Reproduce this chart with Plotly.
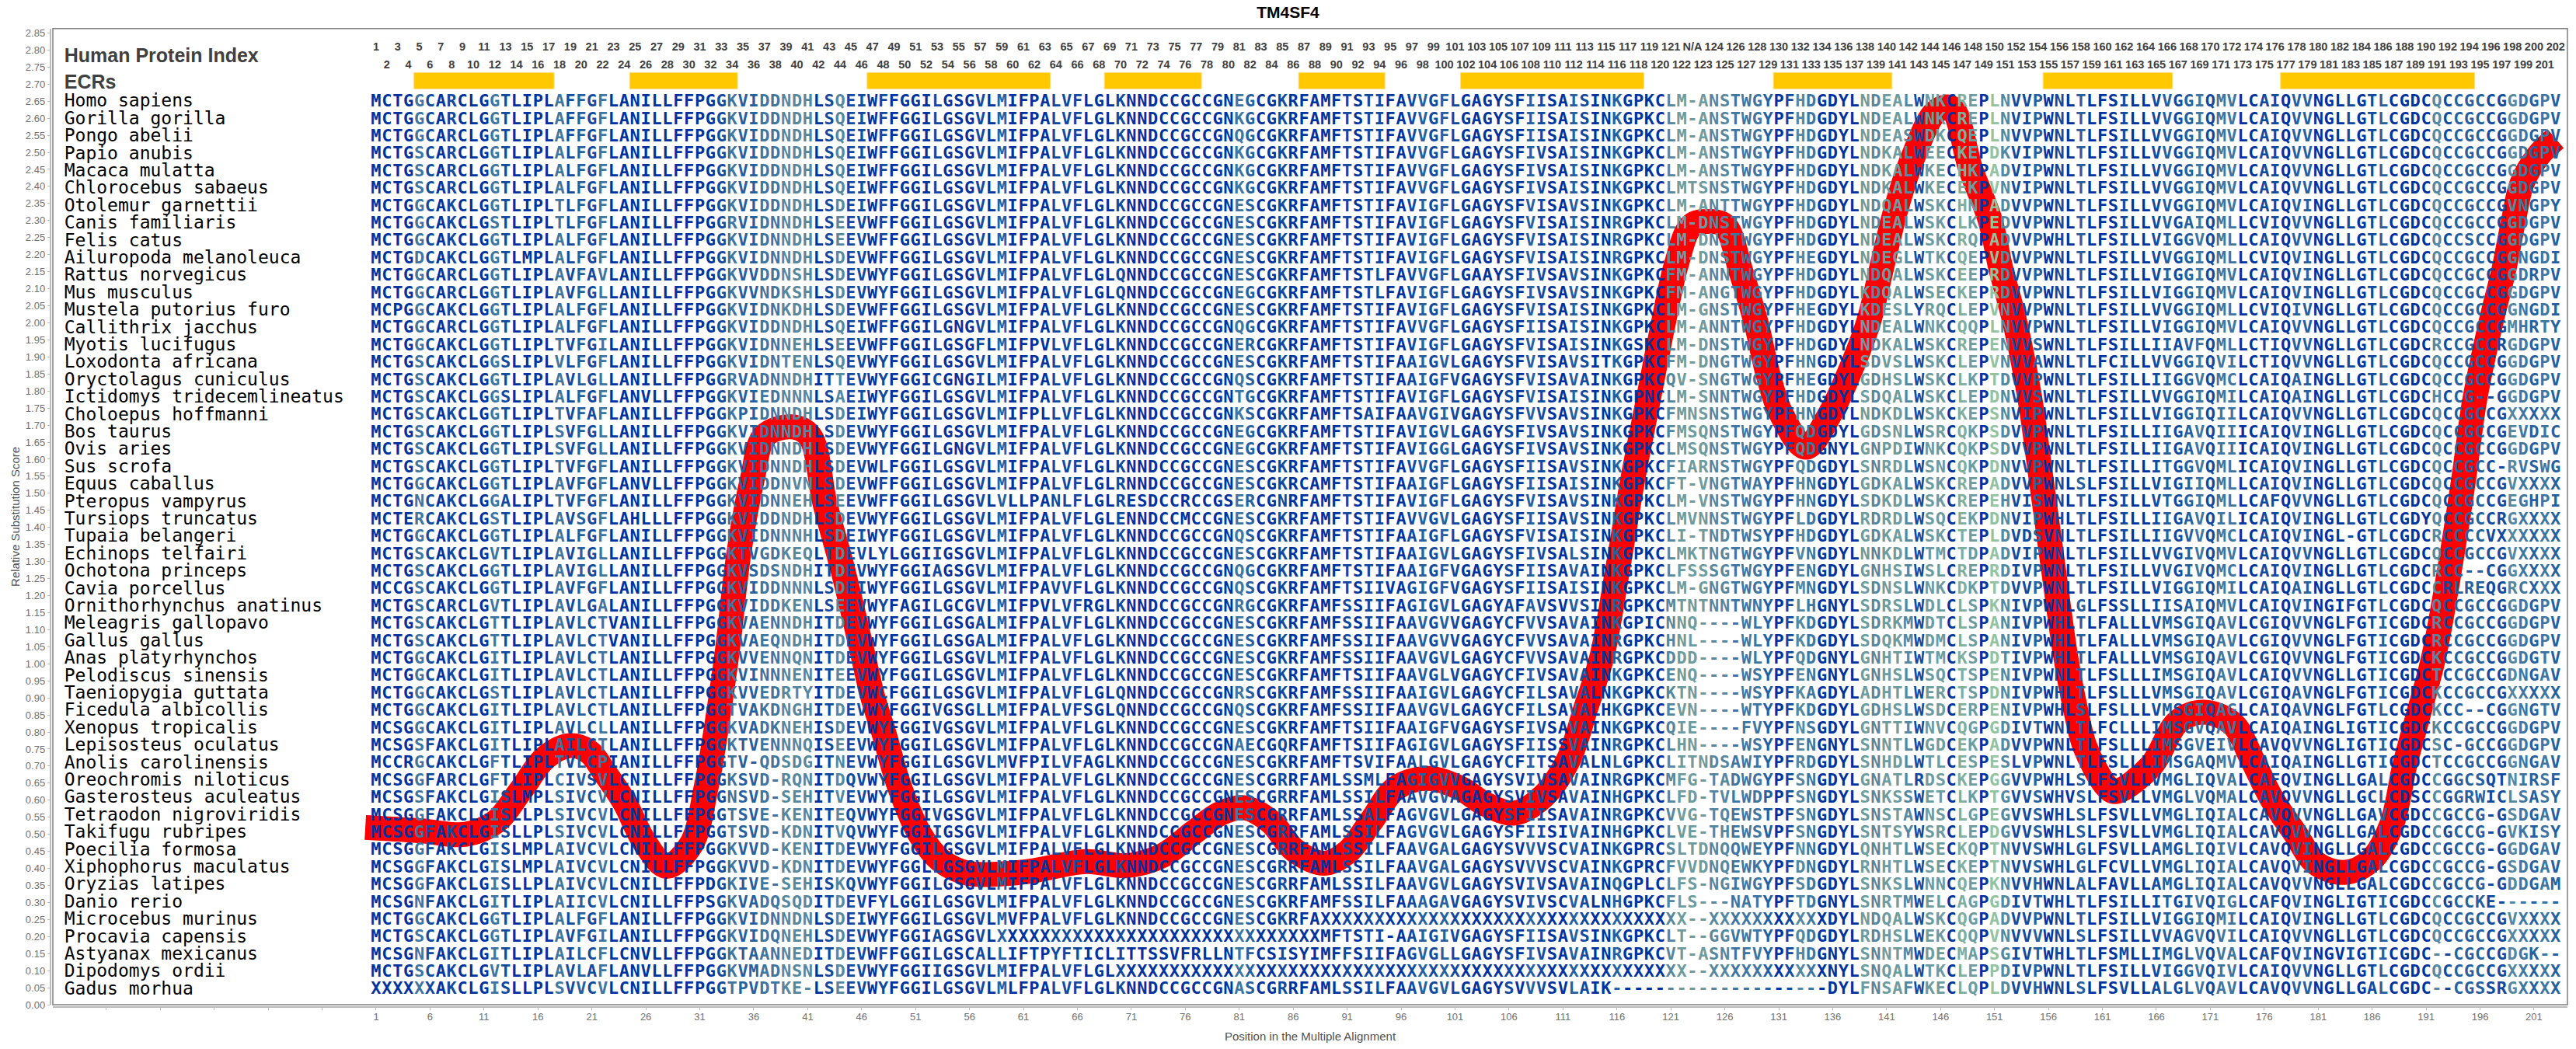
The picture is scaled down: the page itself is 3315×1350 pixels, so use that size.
import plotly.graph_objects as go

species = ["Homo sapiens","Gorilla gorilla","Pongo abelii","Papio anubis","Macaca mulatta","Chlorocebus sabaeus","Otolemur garnettii","Canis familiaris","Felis catus","Ailuropoda melanoleuca","Rattus norvegicus","Mus musculus","Mustela putorius furo","Callithrix jacchus","Myotis lucifugus","Loxodonta africana","Oryctolagus cuniculus","Ictidomys tridecemlineatus","Choloepus hoffmanni","Bos taurus","Ovis aries","Sus scrofa","Equus caballus","Pteropus vampyrus","Tursiops truncatus","Tupaia belangeri","Echinops telfairi","Ochotona princeps","Cavia porcellus","Ornithorhynchus anatinus","Meleagris gallopavo","Gallus gallus","Anas platyrhynchos","Pelodiscus sinensis","Taeniopygia guttata","Ficedula albicollis","Xenopus tropicalis","Lepisosteus oculatus","Anolis carolinensis","Oreochromis niloticus","Gasterosteus aculeatus","Tetraodon nigroviridis","Takifugu rubripes","Poecilia formosa","Xiphophorus maculatus","Oryzias latipes","Danio rerio","Microcebus murinus","Procavia capensis","Astyanax mexicanus","Dipodomys ordii","Gadus morhua"]

alignment = [
"MCTGGCARCLGGTLIPLAFFGFLANILLFFPGGKVIDDNDH LSQEIWFFGGILGSGVLMIFPALVFLGLKNNDCCGCCGNEGCGKRFAMFTSTIFAVVGFLGAGYSFIISAISINKGPKC LM-A NSTWGYPFHDGDYLNDEALWNKCREPLNVVPWNLTLFSILLVVGGIQMVLCAIQVVNGLLGTLCGDCQCCGCCGGDGPV",
"MCTGGCARCLGGTLIPLAFFGFLANILLFFPGGKVIDDNDH LSQEIWFFGGILGSGVLMIFPALVFLGLKNNDCCGCCGNKGCGKRFAMFTSTIFAVVGFLGAGYSFIISAISINKGPKC LM-A NSTWGYPFHDGDYLNDEALWNKCREPLNVIPWNLTLFSILLVVGGIQMVLCAIQVVNGLLGTLCGDCQCCGCCGGDGPV",
"MCTGGCARCLGGTLIPLAFFGFLANILLFFPGGKVIDDNDH LSQEIWFFGGILGSGVLMIFPALVFLGLKNNDCCGCCGNQGCGKRFAMFTSTIFAVVGFLGAGYSFIISAISINKGPKC LM-A NSTWGYPFHDGDYLNDEASWDKCQEPLNVVPWNLTLFSILLVVGGIQMVLCAIQVVNGLLGTLCGDCQCCGCCGGDGPV",
"MCTGSCARCLGGTLIPLALFGFLANILLFFPGGKVIDDNDH LSQEIWFFGGILGSGVLMIFPALVFLGLKNNDCCGCCGNKGCGKRFAMFTSTIFAVVGFLGAGYSFIVSAISINKGPKC LM-A NSTWGYPFHDGDYLNDKALWEECKEPDKVIPWNLTLFSILLVVGGIQMVLCAIQVVNGLLGTLCGDCQCCGCCGGDGPV",
"MCTGSCARCLGGTLIPLALFGFLANILLFFPGGKVIDDNDH LSQEIWFFGGILGSGVLMIFPALVFLGLKNNDCCGCCGNKGCGKRFAMFTSTIFAVVGFLGAGYSFIVSAISINKGPKC LM-A NSTWGYPFHDGDYLNDKALWKECHKPADVIPWNLTLFSILLVVGGIQMVLCAIQVVNGLLGTLCGDCQCCGCCGGDGPV",
"MCTGSCARCLGGTLIPLALFGFLANILLFFPGGKVIDDNDH LSQEIWFFGGILGSGVLMIFPALVFLGLKNNDCCGCCGNKGCGKRFAMFTSTIFAVVGFLGAGYSFIVSAISINKGPKC LMTS NSTWGYPFHDGDYLNDKALWKECEKPVNVIPWNLTLFSILLVVGGIQMVLCAIQVVNGLLGTLCGDCQCCGCCGGDGPV",
"MCTGGCAKCLGGTLIPLTLFGFLANILLFFPGGKVIDDNDH LSDEIWFFGGILGSGVLMIFPALVFLGLKNNDCCGCCGNESCGKRFAMFTSTIFAVIGFLGAGYSFVISAVSINKGPKC LM-A NTTWGYPFHDGDYLNDQALWSKCHNPADVVPWNLTLFSILLVVGGIQMVLCAIQVINGLLGTLCGDCQCCGCCGVNGPY",
"MCTGGCAKCLGSTLIPLTLFGFLANILLFFPGGRVIDNNDH LSEEVWFFGGILGSGVLMIFPALVFLGLKNNDCCGCCGNESCGKRFAMFTSTIFAVIGFLGAGYSFVISAISINRGPKC LM-D NSTWGYPFHDGDYLNDEALWSKCLKPEDVVPWNLTLFSILLVVGAIQMLLCVIQVVNGLLGTLCGDCQCCGCCGGDGPV",
"MCTGGCAKCLGGTLIPLALFGFLANILLFFPGGKVIDNNDH LSEEVWFFGGILGSGVLMIFPALVFLGLKNNDCCGCCGNESCGKRFAMFTSTIFAVIGFLGAGYSFVISAISINRGPKC LM-D NSTWGYPFHDGDYLNDEALWSKCRQPADVVPWHLTLFSILLVIGGVQMLLCAIQVVNGLLGTLCGDCQCCSCCGGDGPV",
"MCTGDCAKCLGGTLMPLALFGFLANILLFFPGGKVIDNNDH LSDEVWFFGGILGSGVLMIFPALVFLGLKNNDCCGCCGNESCGKRFAMFTSTIFAVIGFLGAGYSFVISAISINRGPKC LM-D NSTWGYPFHEGDYLNDEGLWTKCQEPVDVVPWNLTLFSILLVVGGIQMLLCVIQVINGLLGTLCGDCQCCGCCGGNGDI",
"MCTGGCARCLGGTLIPLAVFAVLANILLFFPGGKVVDDNSH LSDEVWYFGGILGSGVLMIFPALVFLGLQNNDCCGCCGNESCGKRFAMFTSTLFAVVGFLGAAYSFIVSAVSINKGPKC FM-A NNTWGYPFHDGDYLNDQALWSKCEEPRDVVPWNLTLFSILLVIGGIQMVLCAIQVINGLLGTLCGDCQCCGCCGGDRPV",
"MCTGGCARCLGGTLIPLAVFGLLANILLFFPGGKVVNDKSH LSDEVWYFGGILGSGVLMIFPALVFLGLQNNDCCGCCGNEGCGKRFAMFTSTLFAVIGFLGAGYSFIVSAVSINKGPKC FM-A NGTWGYPFHDGDYLKDQALWSECKEPRDVVPWNLTLFSILLVIGGIQMVLCAIQVINGLLGTLCGDCQCCGCCGGDGPV",
"MCPGGCAKCLGGTLIPLALFGFLANILLFFPGGKVIDNKDH LSDEVWFFGGILGSGVLMIFPALVFLGLKNNDCCGCCGNESCGKRFAMFTSTIFAVIGFLGAGYSFVISAISINKGPKC LM-G NSTWGYPFHEGDYLKDESLYRQCLEPVNVVPWNLTLFSILLVVGGIQMLLCVIQIVNGLLGTLCGDCQCCGCCGGNGDI",
"MCTGGCARCLGGTLIPLALFGFLANILLFFPGGKVIDDNDH LSQEIWFFGGILGNGVLMIFPALVFLGLKNNDCCGCCGNQGCGKRFAMFTSTIFAVVGFLGAGYSFIISAISINKGPKC LM-A NNTWGYPFHDGDYLNDEALWNKCQQPLNVVPWNLTLFSILLVIGGIQMVLCAIQVVNGLLGTLCGDCQCCGCCGMHRTY",
"MCTGGCAKCLGGTLIPLTVFGILANILLFFPGGKVIDNNEH LSEEVWFFGGILGSGFLMIFPVLVFLGLKNNDCCGCCGNERCGKRFAMFTSTIFAVIGFLGAGYSFVISAISINKGSKC LM-D NSTWGYPFHDGDYLNDKALWSKCREPENVVSWNLTLFSILLIIAVFQMLLCTIQVVNGLLGTLCGDCRCCGCCRGDGPV",
"MCTGSCAKCLGGSLIPLVLFGFLANILLFFPGGKVIDNTEN LSQEVWYFGGILGSGVLMIFPALVFLGLKNNDCCGCCGNESCGKRFAMFTSTIFAAIGVLGAGYSFVISAVSITKGPKC FM-D NGTWGYPFHNGDYLSDVSLWSKCLEPVNVVAWNLTLFCILLVVGGIQVILCTIQVVNGLLGTLCGDCQCCGCCGGDGPV",
"MCTGSCAKCLGGTLIPLAVLGLLANILLFFPGGRVADNNDH ITTEVWYFGGICGNGILMIFPALVFLGLKNNDCCGCCGNQSCGKRFAMFTSTIFAAIGFVGAGYSFVISAVAINKGPKC QV-S NGTWGYPFHEGDYLGDHSLWSKCLKPTDVVPWNLTLFSILLIIGGVQMCLCAIQAINGLLGTLCGDCQCCGCCGGDGPV",
"MCTGSCAKCLGGSLIPLALFGFLANVLLFFPGGKVIEDNNN LSAEIWYFGGILGSGVLMIFPALVFLGLKNNDCCGCCGNTGCGKRFAMFTSTIFAVIGFLGAGYSFVISAISINKGPNC LM-S NNTWGYPFHDGDYLSDQALWSKCLEPDNVVSWNLTLFSILLVVGGIQMILCAIQAINGLLGTLCGDCHCCG--GGDGPV",
"MCTGSCAKCLGGTLIPLTVFAFLANILLFFPGGKPIDNNDH LSDEIWYFGGILGSGVLMIFPLLVFLGLKNNDCCGCCGNKSCGKRFAMFTSAIFAAVGIVGAGYSFVVSAVSINKGPKC FMNS NSTWGYPFHNGDYLNDKDLWSKCKEPSNVIPWNLTLFSILLVIGGIQIILCAIQVVNGLLGTLCGDCQCCGCCGXXXXX",
"MCTGSCAKCLGGTLIPLSVFGLLANILLFFPGGKVIDNNDH LSDEVWYFGGILGSGVLMIFPALVFLGLKNNDCCGCCGNEGCGKRFAMFTSTIFAVIGVLGAGYSFIVSAVSINKGPKC FMSQ NSTWGYPFQDGDYLGDSNLWSRCQKPSDVVPWNLTLFSILLIIGAVQIIICAIQVINGLLGTLCGDCQCCGCCGEVDIC",
"MCTGSCAKCLGGTLIPLSVFGLLANILLFFPGGKVIDNNDH LSDEVWYFGGILGNGVLMIFPALVFLGLKNNDCCGCCGNEGCGKRFAMFTSTIFAVIGGLGAGYSFIVSAVSINKGPKC LMSQ NSTWGYPFQDGNYLGNPDIWNKCQKPSDVVPWNLTLFSILLIIGAVQIIICAIQVINGLLGTLCGDCQCCGCCGGDGPV",
"MCTGSCAKCLGGTLIPLTVFGFLANILLFFPGGKVIDNNDH LSDEVWLFGGILGSGVLMIFPALVFLGLKNNDCCGCCGNESCGKRFAMFTSTIFAVVGFLGAGYSFIISAVSINKGPKC FIAR NSTWGYPFQDGDYLSNRDLWSNCQKPDNVVPWNLTLFSILLITGGVQMLICAIQVINGLLGTLCGDCQCCGCC-RVSWG",
"MCTGGCAKCLGGTLIPLAVFGFLANVLLFFPGGKVIDDNVN LSDEVWFFGGILGSGVLMIFPALVFLGLRNNDCCGCCGNESCGKRCAMFTSTIFAAIGFLGAGYSFIISAISINKGPKC FT-V NGTWAYPFHNGDYLGDKALWSKCREPADVVPWNLSLFSILLVIGIIQMLLCAIQVINGLLGTLCGDCQCCGCCGVXXXX",
"MCTGNCAKCLGGALIPLTVFGFLANILLFFPGGKVIDNNEH LSEEVWFFGGILGSGVLVLLPANLFLGLRESDCCRCCGSERCGNRFAMFTSTIFAVIGFLGAGYSFVISAVSINKGPKC LM-V NSTWGYPFHNGDYLSDKDLWSKCREPEHVISWNLTLFSILLVTGGIQMLLCAFQVVNGLLGTLCGDCQCCGCCGEGHPI",
"MCTERCAKCLGSTLIPLAVSGFLAHLLLFFPGGKVIDDNDH LSDEVWYFGGILGSGVLMIFPALVFLGLENNDCCMCCGNESCGKRFAMFTSTIFAVVGVLGAGYSFIISAVSINKGPKC LMVN NSTWGYPFLDGDYLRDRDLWSQCEKPDNVIPWHLTLFSILLIIGAVQILICAIQVINGLLGTLCGDYQCCGCCRGXXXX",
"MCTGGCAKCLGGTLIPLALFGFLANILLFFPGGKVIDNNNH LSDEIWYFGGILGSGVLMIFPALVFLGLKNNDCCGCCGNQSCGKRFAMFTSTIFAAIGFLGAGYSFVISAISINKGPKC LI-T NDTWSYPFHDGDYLGDKALWSKCTEPLDVDSVNLTLFSILLIIGVVQMCLCAIQVINGL-GTLCGDCRCCCCVXXXXXX",
"MCTGSCAKCLGVTLIPLAVIGLLANILLFFPGGKTVGDKEQ LTDEVLYLGGIIGSGVLMIFPALVFLGLKNNDCCGCCGNESCGKRFAMFTSTIFAAIGVLGAGYSFIVSALSINKGPKC LMKT NGTWGYPFVNGDYLNNKDLWTMCTDPADVIPWNLTLFSILLVVGIVQMVLCAIQVVNGLLGTLCGDCQCCGCCGVXXXX",
"MCTGSCAKCLGGTLIPLAVIGLLANILLFFPGGKVSDSNDH ITDEVWYFGGIAGSGVLMIFPALVFLGLKNNDCCGCCGNQGCGKRFAMFTSTIFAAIGFVGAGYSFIISAVAINKGPKC LFSS SGTWGYPFENGDYLGNHSIWSLCREPRDIVPWNLTLFSILLVVGIVQMCLCAIQVINGLLGTLCGDCRCC--CGGXXXX",
"MCCGSCAKCLGGTLIPLAVFGFLANILLFFPGGKVIDDNNN LSDEIWYFGGILGSGVLMIFPAVVFLGLKNNDCCGCCGNQSCGKRFAMFTSIIVAGIGFVGAGYSFIISAISINKGPKC LM-G NGTWGYPFMNGDYLSDNSLWNKCDKPTDVVPWNLTLFSILLVIGGIQMILCAIQAINGLLGTLCGDCCRLREQGRCXXX",
"MCTGSCARCLGVTLIPLAVLGALANILLFFPGGKVIDDKEN LSEEVWYFAGILGCGVLMIFPVLVFRGLKNNDCCGCCGNRGCGKRFAMFSSIIFAGIGVLGAGYAFAVSVVSINRGPKC MTNT NNTWNYPFLHGNYLSDRSLWDLCLSPKNIVPWNLGLFSSLLIISAIQMVLCAIQVINGIFGTLCGDCQCCGCCGGDGPV",
"MCTGSCAKCLGTTLIPLAVLCTVANILLFFPGGKVAENNDH ITDEVWYFGGILGSGALMIFPALVFLGLKNNDCCGCCGNESCGKRFAMFSSIIFAAVGVVGAGYCFVVSAVAINKGPIC NNQ- ---WLYPFKDGDYLSDRKMWDTCLSPANIVPWHLTLFALLLVMSGIQAVLCGIQVVNGLFGTICGDCRCCGCCGGDGPV",
"MCTGSCAKCLGTTLIPLAVLCTVANILLFFPGGKVAEQNDH ITDEVWYFGGILGSGALMIFPALVFLGLKNNDCCGCCGNESCGKRFAMFSSIIFAAVGVVGAGYCFVVSAVAINRGPKC HNL- ---WLYPFKDGDYLSDQKMWDMCLSPANIVPWHLTLFALLLVMSGIQAVLCGIQVVNGLFGTICGDCRCCGCCGGDGPV",
"MCTGGCAKCLGITLIPLAVLCTLANILLFFPGGKVVENNQN ITDEVWYFGGILGSGVLMIFPALVFLGLKNNDCCGCCGNESCGKRFAMFSSIIFAAVGVLGAGYCFVVSAVAINRGPKC DDD- ---WLYPFQDGNYLGNHTIWTMCKSPDTIVPWHLTLFALLLVMSGIQAVLCGIQVVNGLFGTICGDCKCCGCCGGDGTV",
"MCTGGCAKCLGITLIPLAVLCTLANILLFFPGGKVINNNEN ITEEVWYFGGILGSGVLMIFPALVFLGLKNNDCCGCCGNESCGKRFAMFTSIIFAAVGLVGAGYCFIVSAVAINKGPKC ENQ- ---WSYPFENGNYLGNHSLWSQCTSPENIVPWNLTLFSLLLIMSGIQAVLCAIQVVNGLLGTICGDCTCCGCCGDNGAV",
"MCTGGCAKCLGSTLIPLAVLCTLANILLFFPGGKVVEDRTY ITDEVWCFGGILGSGVLMIFPALVFLGLQNNDCCGCCGNRSCGKRFAMFSSIIFAAIGVLGAGYCFILSAVALNKGPKC KTN- ---WSYPFKAGDYLADHTLWERCTSPDNIVPWHLTLFSLLLVMSGIQAVLCGIQAVNGLFGTICGDCKCCGCCGXXXXX",
"MCTGGCAKCLGITLIPLAVLCTLANILLFFPGGTVAKDNGH ITDEVWYFGGIVGSGLLMIFPALVFSGLQNNDCCGCCGNQSCGKRFAMFSSIIFAAVGVLGAGYCFILSAVALHKGPKC EVN- ---WTYPFKDGDYLGDHSLWSDCERPENIVPWHLSLFSLLLVMSGIQAGLCAIQAVNGLFGTLCGDCKCC--CGGNGTV",
"MCSGGCAKCLGITLIPLAVLCLLANILLFFPGGKVADKNEH ISDEVWYFGGIVGSGVLMIFPALVFLGLKNNDCCGCCGNESCGKRFAMFTSIIFAAIGFVGAGYSFIVSAVAINKGPKC QIE- ---FVYPFNSGDYLGNTTIWNVCQGPGDIVTWNLTLFCLLLIMSGVQAVLCAIQAINGLIGTICGDCKCCGCCGGDGPV",
"MCSGSFAKCLGITLIPLAILCTLANILLFFPGGKTVENNNQ ISEEVWYFGGILGSGVLMIFPALVFLGLKNNDCCGCCGNAECGQRFAMFTSIIFAGIGVLGAGYSFIISSVAINRGPKC LHN- ---WSYPFENGNYLSNNTLWGDCEKPADVVPWNLTLFSLLLIMSGVEIVLCAVQVVNGLIGTICGDCSC-GCCGGDGPV",
"MCCRGCAKCLGFTLIPLTVLCPIANILLFFPGGTV-QDSDG ITNEVWYFGGILGSGVLMVFPILVFAGLKNNDCCGCCGNESCGKRFAMFTSVIFAALGVLGAGYCFITSAVALNLGPKC LITN DSAWIYPFRDGDYLSNHDLWTLCESPESLVPWNLTLFSLLLIMSGAQMVLCAIQAINGLLGTICGDCTCCGCCGGNGAV",
"MCSGGFARCLGFTLIPLCIVSVLCNILLFFPGGKSVD-RQN ITDQVWYFGGILGSGVLMIFPALVFLGLKNNDCCGCCGNESCGRRFAMLSSMLFAGIGVVGAGYSVIVSAVAINRGPKC MFG- TADWGYPFSNGDYLGNATLRDSCKEPGGVVPWHLSLFSVLLVMGLIQVALCAFQVINGLLGALCGDCCGGCSQTNIRSF",
"MCSGSFAKCLGISLMPLSIVCVLCNILLFFPGGNSVD-SEH ITVEVWYFGGILGSGVLMIFPALVFLGLKNNDCCGCCGNESCGRRFAMLSSILFAAVGVAGAGYSVIVSAVAINHGPKC LFD- TVLWDPPFSNGDYLSNKSSWETCLKPTGVVSWHVSLFSVLLVMGLVQMALCAVQVVNGLLGCLCDSCCGGRWICLSASY",
"MCSGGFAKCLGISLLPLSIVCVLCNILLFFPGGTSVE-KEN ITEQVWYFGGIVGSGVLMIFPALVFLGLKNNDCCGCCGNESCGRRFAMLSSALFAGVGVLGAGYSFIISAVAINRGPKC VVG- TQEWSTPFSNGDYLSNSTAWNSCLGPEGVVSWHLSLFSVLLVMGLIQIALCAVQVVNGLLGAVCGDCCGCCG-GSDGAV",
"MCSGGFAKCLGISLLPLSIVCVLCNILLFFPGGTSVD-KDN ITVQVWYFGGIIGSGVLMIFPALVFLGLKNNDCCGCCGNESCGRRFAMLSSILFAGVGVLGAGYSFIISIVAINHGPKC LVE- THEWSVPFSNGDYLSNTSYWSRCLEPDGVVSWHLSLFSVLLVMGLIQIALCAVQVVNGLLGALCGDCCGCCG-GVKISY",
"MCSGGFAKCLGISLMPLAIVCVLCNILLFFPGGKVVD-KEN ITDEVWYFGGILGSGVLMIFPALVFLGLKNNDCCGCCGNESCGRRFAMLSSILFAAVGALGAGYSVVVSCVAINKGPRC SLTD NQQWEYPFNNGDYLQNHTLWSECKQPTNVVSWHLGLFSVLLAMGLIQIVLCAVQVINGLLGALCGDCCGCCG-GGDGAV",
"MCSGGFAKCLGISLMPLAIVCVLCNILLFFPGGKVVD-KDN ITDEVWYFGGLLGSGVLMIFPALVFLGLKNNDCCGCCGNESCGRRFAMLSSILFAAVGALGAGYSVVVSCVAINKGPRC FVVD NQEWKYPFDNGDYLRNHTLWSECKEPTNVVSWHLGLFCVLLVMGLIQIALCAVQVINGLLGALCGDCCGCCG-GSDGAV",
"MCSGGFAKCLGISLLPLAIVCVLCNILLFFPDGKIVE-SEH ISKQVWYFGGILGSGVLMIFPALVFLGLKNNDCCGCCGNESCGRRFAMLSSILFAAVGVLGAGYSVIVSAVAINQGPLC LFS- NGIWGYPFSDGDYLSNKSLWNNCQEPKNVVHWNLALFAVLLAMGLIQIALCAVQVVNGLLGALCGDCCGCCG-GDDGAM",
"MCSGNFAKCLGITLIPLAIICVLCNILLFFPSGKVADQSQD ITDEVFYLGGILGSGVLMIFPALVFLGLKNNDCCGCCGNESCGKRFAMFSSILFAAAGAVGAGYSVIVSCVALNHGPKC FLS- --NATYPFTDGNYLSNRTMWELCAGPGDIVTWHLTLFSILLITGIVQIGLCAFQVINGLIGTICGDCCGCCKE------",
"MCTGGCAKCLGGTLIPLALFGFLANILLFFPGGKVIDNNDN LSDEIWYFGGILGSGVLMVFPALVFLGLKNNDCCGCCGNESCGKRFAXXXXXXXXXXXXXXXXXXXXXXXXXXXXXXXX XX-- XXXXXXXXXXXDYLNDQALWSKCQGPADVVPWNLTLFSILLVIGGIQMILCAIQVINGLLGTLCGDCQCCGCCGVXXXX",
"MCTGSCAKCLGGTLIPLAVFGILANILLFFPGGKVIDQNEH LSDEVWYFGGIAGSGVLXXXXXXXXXXXXXXXXXXXXXXXXXXXXXXMFTSTI-AAIGIVGAGYSFIISAVSINKGPKC LT-- GGVWTYPFQDGDYLRDHSLWEKCQQPVNVVVWNLSLFSILLVVAGVQVILCAIQVVNGLLGTLCGDCQCCGCCGXXXXX",
"MCSGNFAKCLGITLIPLAILCFLCNVLLFFPGGKTAANNED ITDEVWFFGGILGSCALLIFTPYFTICLITTSSVFRLLNTFCSISYIMFFSIIFAGVGLLGAGYSFIVSAVAINRGPKC VT-A SNTFVYPFHDGNYLSNNTMWDECMAPSGIVTWHLTLFSMLLIMGLVQVALCAFQVINGVIGTICGDC--CGCCGDGK--",
"MCTGSCAKCLGVTLIPLAVLAFLANVLLFFPGGKVMADNSN LSDEVWYFGGIIGSGVLMIFPALVFLGLXXXXXXXXXXXXXXXXXXXXXXXXXXXXXXXXXXXXXXXXXXXXXXXXXXX XX-- XXXXXXXXXXXNYLSNQALWTKCLEPPDIVPWNLTLFSILLVIGGVQIVLCAIQVVNGLLGTLCGDCQCCGCCGXXXXX",
"XXXXXXAKCLGISLLPLSVVCVLCNILLFFPGGTPVDTKE- LSEEVWYFGGILGSGVLMLFPALVFLGLKNNDCCGCCGNASCGRRFAMLSSILFAAVGVLGAGYSVVVSVLAIK----- ---- -----------DYLFNSAFWKECLQPLDVVHWNLSLFSVLLALGLVQAVLCAVQVVNGLLGALCGDC--CGSSRGXXXX",
]

conservation = [0,0,0,0,3,1,0,1,0,0,0,3,1,0,0,0,0,3,1,2,1,3,0,0,0,0,0,0,0,0,0,0,1,3,2,2,3,3,4,4,4,0,1,4,1,1,0,1,0,0,0,0,1,0,0,0,1,0,2,0,0,0,0,1,1,1,0,0,0,1,0,0,0,0,0,0,0,0,0,0,3,2,0,0,1,0,0,0,0,0,1,0,1,1,0,0,1,2,1,2,1,0,0,0,0,1,0,2,1,0,0,2,1,0,0,2,0,0,0,0,4,5,5,5,4,4,3,3,3,2,0,1,4,3,0,0,0,0,5,4,5,5,4,1,5,5,0,6,5,0,7,4,1,1,2,0,1,0,2,0,0,0,1,0,0,1,2,1,2,3,1,3,3,0,0,1,1,0,2,2,0,0,0,1,0,1,2,0,0,0,0,4,1,2,2,2,1,1,4,3,2,3,2]

index_labels = [str(i) for i in range(1, 123)] + ["N/A"] + [str(i) for i in range(123, 203)]

ecr_start = [4.5, 24.5, 46.5, 68.5, 86.5, 101.5, 130.5, 155.5, 177.5]
ecr_end = [17.5, 34.5, 63.5, 77.5, 94.5, 118.5, 141.5, 167.5, 195.5]

curve_pos = [0,5.2,9.3,12.1,14.4,16.7,19,20.8,22.2,24,25.9,27.9,30.2,31.6,32.8,33.6,34.6,35.9,37,39.5,41.2,42.6,44.2,45.9,47,48.1,49.5,51.4,53.3,55.8,59.1,61.9,66.8,70.6,73.9,76.8,79.2,81.4,83.9,86.1,88.9,91,93.2,95.5,98.5,101.5,103.7,106.5,109.2,111.5,113.1,114.6,116.1,117.5,118.9,120.3,121.5,122.9,124.4,126,127.5,128.9,130,131.2,133.5,135.8,137.5,139.3,140.6,141.9,143.5,145.6,147,148.8,150.6,151.6,152.9,154.3,155.3,156.6,157.6,158.5,159.4,161.4,162.2,165.5,168,170.4,173.1,174.9,176.7,178.8,180.8,183.4,185.9,187.8,189,190.1,191.7,193.4,194.5,195.5,197,198.2,199.1,199.9,201.4,203]
curve_score = [0.52,0.51,0.50,0.537,0.628,0.725,0.76,0.74,0.68,0.595,0.476,0.406,0.47,0.64,0.868,1.05,1.32,1.546,1.668,1.695,1.668,1.47,1.283,1.057,0.906,0.793,0.64,0.50,0.424,0.386,0.384,0.393,0.42,0.408,0.438,0.506,0.56,0.578,0.537,0.454,0.415,0.447,0.537,0.635,0.664,0.635,0.59,0.562,0.612,0.718,0.868,1.02,1.283,1.546,1.773,1.998,2.17,2.285,2.297,2.285,2.15,2.0,1.85,1.735,1.635,1.735,1.85,2.0,2.17,2.337,2.49,2.62,2.63,2.45,2.30,2.157,2.0,1.773,1.546,1.245,1.02,0.868,0.755,0.64,0.625,0.70,0.83,0.858,0.823,0.718,0.604,0.506,0.415,0.388,0.424,0.528,0.70,0.83,1.02,1.32,1.546,1.773,2.0,2.155,2.30,2.41,2.49,2.54]

rows = [r.replace(" ", "") for r in alignment]
palette = ["#0033A0", "#124AA0", "#26609F", "#3F76A1", "#5588A0", "#6C9CA0", "#7FAE9F", "#93C29F"]

W, H = 3315, 1350
ROW0, ROW_STEP = 2.6465, 0.05104
row_y = [ROW0 - i * ROW_STEP for i in range(len(species))]
LABEL_X = -27.9

fig = go.Figure()
fig.add_trace(go.Bar(
    x=[(a + b) / 2 for a, b in zip(ecr_start, ecr_end)],
    y=[0.048] * len(ecr_start),
    base=[2.686] * len(ecr_start),
    width=[b - a for a, b in zip(ecr_start, ecr_end)],
    marker=dict(color="#FFC800", line=dict(color="#FFE08A", width=1)),
    hoverinfo="skip", showlegend=False))
fig.add_trace(go.Scatter(
    x=curve_pos, y=curve_score, mode="lines",
    line=dict(color="#FF0000", width=32, shape="spline", smoothing=1),
    hoverinfo="skip", showlegend=False))
fig.add_trace(go.Scatter(
    x=[c + 1 for r in rows for c in range(len(r))],
    y=[y for y, r in zip(row_y, rows) for _ in r],
    text=[ch for r in rows for ch in r],
    mode="text", textposition="middle center",
    textfont=dict(family="DejaVu Sans Mono", size=22, weight="bold",
                  color=[palette[conservation[c]] for r in rows for c in range(len(r))]),
    hoverinfo="skip", showlegend=False))
fig.add_trace(go.Scatter(
    x=[LABEL_X] * len(species), y=row_y, text=species,
    mode="text", textposition="middle right",
    textfont=dict(family="DejaVu Sans Mono", size=23, color="#000000"),
    hoverinfo="skip", showlegend=False))
fig.add_trace(go.Scatter(
    x=[LABEL_X, LABEL_X], y=[2.779, 2.702], text=["Human Protein Index", "ECRs"],
    mode="text", textposition="middle right",
    textfont=dict(family="Liberation Sans", size=25, weight="bold", color="#404040"),
    hoverinfo="skip", showlegend=False))
fig.add_trace(go.Scatter(
    x=list(range(1, len(index_labels) + 1)),
    y=[2.807 if i % 2 == 0 else 2.755 for i in range(len(index_labels))],
    text=index_labels, mode="text", textposition="middle center",
    textfont=dict(family="Liberation Sans", size=14.5, weight="bold", color="#404040"),
    hoverinfo="skip", showlegend=False))

xticks = list(range(-29, 203, 5))
tick_font = dict(family="Liberation Sans", size=13, color="#707070")
fig.update_layout(
    width=W, height=H, autosize=False,
    margin=dict(l=0, r=0, t=0, b=0),
    paper_bgcolor="white", plot_bgcolor="white",
    showlegend=False,
    title=dict(text="TM4SF4", x=0.5, xref="paper", xanchor="center",
               y=1 - 13.7 / H, yref="paper", yanchor="middle",
               font=dict(family="Liberation Sans", size=21, color="#000000", weight="bold")),
    xaxis=dict(domain=[68 / W, 3304 / W], range=[-28.96, 204.1], anchor="free",
               position=(H - 1304) / H, showgrid=False, zeroline=False,
               showline=True, linecolor="#BBBBBB", linewidth=1.5,
               ticks="outside", ticklen=3, tickcolor="#BBBBBB", ticklabelstandoff=-3,
               tickvals=xticks, ticktext=[str(t) if t > 0 else "" for t in xticks],
               tickangle=0, tickfont=tick_font,
               title=dict(text="Position in the Multiple Alignment", standoff=13,
                          font=dict(family="Liberation Sans", size=15, color="#505050"))),
    yaxis=dict(domain=[(H - 1300.7) / H, (H - 35) / H], range=[0, 2.863], anchor="free",
               position=64.5 / W, showgrid=False, zeroline=False,
               showline=True, linecolor="#BBBBBB", linewidth=1.5,
               ticks="outside", ticklen=3, tickcolor="#BBBBBB",
               tick0=0, dtick=0.05, tickformat=".2f", tickfont=tick_font,
               title=dict(text="Relative Substitution Score", standoff=3,
                          font=dict(family="Liberation Sans", size=15, color="#505050"))),
    shapes=[dict(type="rect", xref="x domain", yref="y domain", x0=0, x1=1, y0=0, y1=1,
                 line=dict(color="#808080", width=1.5), layer="above")],
)
fig.write_html("out.html", config={"displayModeBar": False},
               post_script="document.body.style.margin='0';")
